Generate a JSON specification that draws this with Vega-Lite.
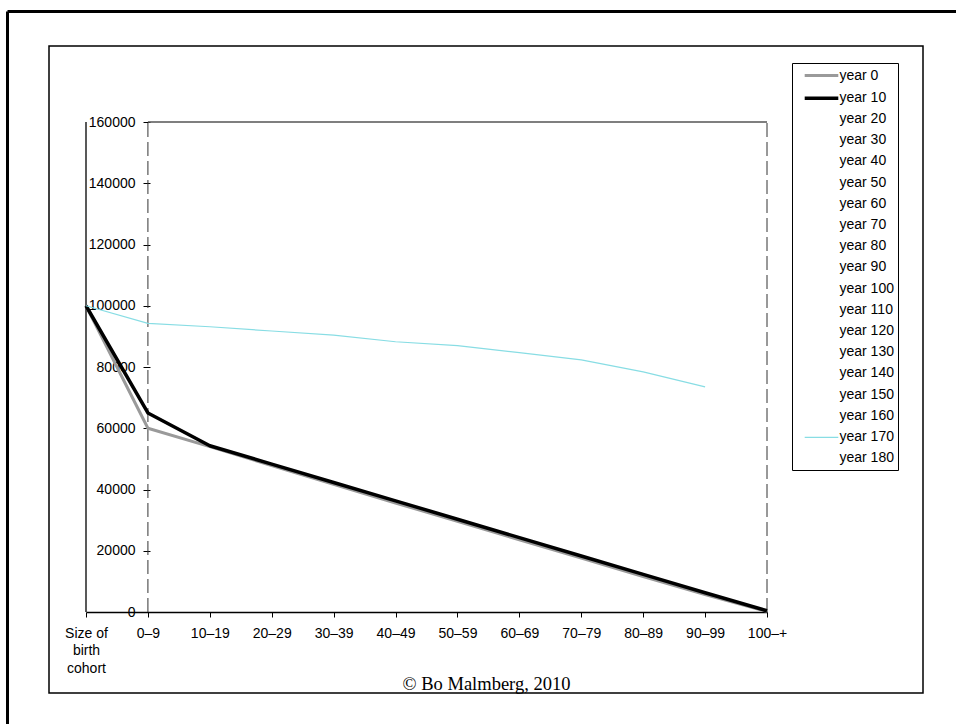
{
  "$schema": "https://vega.github.io/schema/vega-lite/v6.json",
  "width": 874,
  "height": 647,
  "autosize": {"type": "none"},
  "padding": {"left": 49, "top": 46, "right": 33, "bottom": 31},
  "background": "white",
  "config": {
    "view": {"stroke": "black", "strokeWidth": 1.5},
    "font": "Liberation Sans"
  },
  "datasets": {
    "series": [
      {"series": "year 0", "cohort": "Size of birth cohort", "value": 100000},
      {"series": "year 0", "cohort": "0–9", "value": 60000},
      {"series": "year 0", "cohort": "10–19", "value": 54000},
      {"series": "year 0", "cohort": "20–29", "value": 47800},
      {"series": "year 0", "cohort": "30–39", "value": 41700},
      {"series": "year 0", "cohort": "40–49", "value": 35600},
      {"series": "year 0", "cohort": "50–59", "value": 29600},
      {"series": "year 0", "cohort": "60–69", "value": 23600},
      {"series": "year 0", "cohort": "70–79", "value": 17600},
      {"series": "year 0", "cohort": "80–89", "value": 11600},
      {"series": "year 0", "cohort": "90–99", "value": 5700},
      {"series": "year 0", "cohort": "100–+", "value": 200},
      {"series": "year 10", "cohort": "Size of birth cohort", "value": 100000},
      {"series": "year 10", "cohort": "0–9", "value": 65000},
      {"series": "year 10", "cohort": "10–19", "value": 54300},
      {"series": "year 10", "cohort": "20–29", "value": 48300},
      {"series": "year 10", "cohort": "30–39", "value": 42300},
      {"series": "year 10", "cohort": "40–49", "value": 36300},
      {"series": "year 10", "cohort": "50–59", "value": 30300},
      {"series": "year 10", "cohort": "60–69", "value": 24300},
      {"series": "year 10", "cohort": "70–79", "value": 18300},
      {"series": "year 10", "cohort": "80–89", "value": 12300},
      {"series": "year 10", "cohort": "90–99", "value": 6300},
      {"series": "year 10", "cohort": "100–+", "value": 400},
      {"series": "year 170", "cohort": "Size of birth cohort", "value": 100000},
      {"series": "year 170", "cohort": "0–9", "value": 94250},
      {"series": "year 170", "cohort": "10–19", "value": 93150},
      {"series": "year 170", "cohort": "20–29", "value": 91750},
      {"series": "year 170", "cohort": "30–39", "value": 90400},
      {"series": "year 170", "cohort": "40–49", "value": 88250},
      {"series": "year 170", "cohort": "50–59", "value": 86950},
      {"series": "year 170", "cohort": "60–69", "value": 84700},
      {"series": "year 170", "cohort": "70–79", "value": 82300},
      {"series": "year 170", "cohort": "80–89", "value": 78400},
      {"series": "year 170", "cohort": "90–99", "value": 73500}
    ],
    "solidEdge": [{"cohort": "Size of birth cohort", "value": 0, "value2": 160000}],
    "dashEdges": [
      {"cohort": "0–9", "value": 0, "value2": 160000},
      {"cohort": "100–+", "value": 0, "value2": 160000}
    ],
    "topEdge": [{"cohort": "0–9", "cohort2": "100–+", "value": 160000}],
    "frame": [{"fx": 0, "fy": 0}]
  },
  "layer": [
    {
      "layer": [
        {
          "data": {"name": "solidEdge"},
          "mark": {"type": "rule", "color": "#222222", "strokeWidth": 1.5},
          "encoding": {
            "x": {"field": "cohort", "type": "ordinal", "scale": {"type": "point", "domain": ["Size of birth cohort", "0–9", "10–19", "20–29", "30–39", "40–49", "50–59", "60–69", "70–79", "80–89", "90–99", "100–+"], "range": [37, 718], "padding": 0}},
            "y": {"field": "value", "type": "quantitative", "scale": {"domain": [0, 160000], "range": [566, 76], "nice": false, "zero": false}},
            "y2": {"field": "value2"}
          }
        },
        {
          "data": {"name": "dashEdges"},
          "mark": {"type": "rule", "color": "#333333", "strokeWidth": 1, "strokeDash": [14, 5]},
          "encoding": {
            "x": {"field": "cohort", "type": "ordinal", "scale": {"type": "point", "domain": ["Size of birth cohort", "0–9", "10–19", "20–29", "30–39", "40–49", "50–59", "60–69", "70–79", "80–89", "90–99", "100–+"], "range": [37, 718], "padding": 0}},
            "y": {"field": "value", "type": "quantitative", "scale": {"domain": [0, 160000], "range": [566, 76], "nice": false, "zero": false}},
            "y2": {"field": "value2"}
          }
        },
        {
          "data": {"name": "topEdge"},
          "mark": {"type": "rule", "color": "#555555", "strokeWidth": 1.5},
          "encoding": {
            "x": {"field": "cohort", "type": "ordinal", "scale": {"type": "point", "domain": ["Size of birth cohort", "0–9", "10–19", "20–29", "30–39", "40–49", "50–59", "60–69", "70–79", "80–89", "90–99", "100–+"], "range": [37, 718], "padding": 0}},
            "x2": {"field": "cohort2"},
            "y": {"field": "value", "type": "quantitative", "scale": {"domain": [0, 160000], "range": [566, 76], "nice": false, "zero": false}}
          }
        },
        {
          "data": {"name": "series"},
          "mark": {"type": "line", "strokeJoin": "round"},
          "encoding": {
            "x": {
              "field": "cohort",
              "type": "ordinal",
              "scale": {"type": "point", "domain": ["Size of birth cohort", "0–9", "10–19", "20–29", "30–39", "40–49", "50–59", "60–69", "70–79", "80–89", "90–99", "100–+"], "range": [37, 718], "padding": 0},
              "axis": {
                "orient": "bottom",
                "offset": -81,
                "title": "© Bo Malmberg, 2010",
                "titleFont": "Liberation Serif",
                "titleFontSize": 18.5,
                "titleFontWeight": "normal",
                "titleColor": "black",
                "titleX": 437,
                "titleY": 77,
                "titleAlign": "center",
                "titleBaseline": "alphabetic",
                "labelAngle": 0,
                "labelAlign": "center",
                "tickSize": 5,
                "labelPadding": 16,
                "labelFontSize": 14,
                "labelFont": "Liberation Sans",
                "labelColor": "black",
                "domainColor": "black",
                "domainWidth": 1.5,
                "tickColor": "black",
                "labelExpr": "datum.value == 'Size of birth cohort' ? ['Size of', 'birth', 'cohort'] : datum.value",
                "labelLineHeight": 17.5,
                "labelOverlap": false,
                "labelBound": false,
                "labelFlush": false,
                "grid": false
              }
            },
            "y": {
              "field": "value",
              "type": "quantitative",
              "scale": {"domain": [0, 160000], "range": [566, 76], "nice": false, "zero": false},
              "axis": {
                "orient": "left",
                "offset": -101,
                "title": null,
                "values": [0, 20000, 40000, 60000, 80000, 100000, 120000, 140000, 160000],
                "format": "d",
                "tickSize": 7,
                "tickColor": "black",
                "labelPadding": 8,
                "domain": false,
                "grid": false,
                "labelFontSize": 14,
                "labelFont": "Liberation Sans",
                "labelColor": "black"
              }
            },
            "color": {
              "field": "series",
              "type": "ordinal",
              "scale": {
                "type": "ordinal",
                "domain": ["year 0", "year 10", "year 20", "year 30", "year 40", "year 50", "year 60", "year 70", "year 80", "year 90", "year 100", "year 110", "year 120", "year 130", "year 140", "year 150", "year 160", "year 170", "year 180"],
                "range": ["#9a9a9a", "#000000", "rgba(0,0,0,0)", "rgba(0,0,0,0)", "rgba(0,0,0,0)", "rgba(0,0,0,0)", "rgba(0,0,0,0)", "rgba(0,0,0,0)", "rgba(0,0,0,0)", "rgba(0,0,0,0)", "rgba(0,0,0,0)", "rgba(0,0,0,0)", "rgba(0,0,0,0)", "rgba(0,0,0,0)", "rgba(0,0,0,0)", "rgba(0,0,0,0)", "rgba(0,0,0,0)", "#88dde4", "rgba(0,0,0,0)"]
              },
              "legend": {
                "orient": "none",
                "legendX": 743,
                "legendY": 17,
                "title": null,
                "symbolType": "M-2.4,0H2.4",
                "symbolSize": 196,
                "symbolOffset": 16.5,
                "labelOffset": 9,
                "rowPadding": 6.2,
                "padding": 4,
                "strokeColor": "black",
                "fillColor": "white",
                "labelFontSize": 14,
                "labelFont": "Liberation Sans",
                "labelColor": "black",
                "labelLimit": 200
              }
            },
            "strokeWidth": {
              "field": "series",
              "type": "ordinal",
              "scale": {
                "type": "ordinal",
                "domain": ["year 0", "year 10", "year 20", "year 30", "year 40", "year 50", "year 60", "year 70", "year 80", "year 90", "year 100", "year 110", "year 120", "year 130", "year 140", "year 150", "year 160", "year 170", "year 180"],
                "range": [3, 3.5, 1, 1, 1, 1, 1, 1, 1, 1, 1, 1, 1, 1, 1, 1, 1, 1.2, 1]
              },
              "legend": {
                "orient": "none",
                "legendX": 743,
                "legendY": 17,
                "title": null,
                "symbolType": "M-2.4,0H2.4",
                "symbolSize": 196,
                "symbolOffset": 16.5,
                "labelOffset": 9,
                "rowPadding": 6.2,
                "padding": 4,
                "strokeColor": "black",
                "fillColor": "white",
                "labelFontSize": 14,
                "labelFont": "Liberation Sans",
                "labelColor": "black",
                "labelLimit": 200
              }
            }
          }
        }
      ]
    },
    {
      "data": {"name": "frame"},
      "mark": {"type": "point", "opacity": 0},
      "encoding": {
        "x": {
          "field": "fx",
          "type": "quantitative",
          "scale": {"domain": [0, 1], "range": [-42, 920]},
          "axis": {"orient": "top", "offset": 35, "domain": true, "domainWidth": 3, "domainColor": "black", "ticks": false, "labels": false, "grid": false, "title": null}
        },
        "y": {
          "field": "fy",
          "type": "quantitative",
          "scale": {"domain": [0, 1], "range": [690, -35]},
          "axis": {"orient": "left", "offset": 42, "domain": true, "domainWidth": 3, "domainColor": "black", "ticks": false, "labels": false, "grid": false, "title": null}
        }
      }
    }
  ],
  "resolve": {"scale": {"x": "independent", "y": "independent"}, "axis": {"x": "independent", "y": "independent"}}
}
